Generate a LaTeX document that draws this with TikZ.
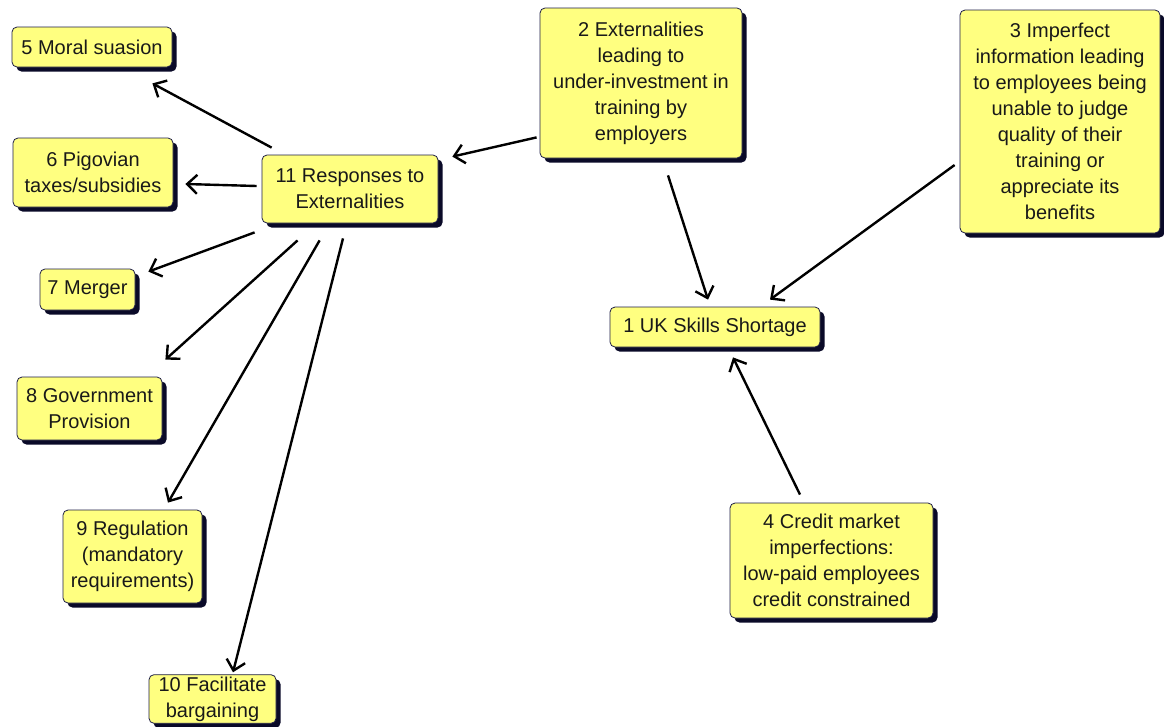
\documentclass[tikz,border=0pt]{standalone}
\usepackage{fontspec}
\setmainfont{Liberation Sans}
\usetikzlibrary{arrows.meta,shadows,calc}
\definecolor{boxfill}{RGB}{255,255,128}
\definecolor{boxline}{RGB}{30,30,70}
\definecolor{shadowc}{RGB}{10,10,40}
\definecolor{textc}{RGB}{25,25,25}
\begin{document}
\begin{tikzpicture}[x=1pt,y=-1pt,
  box/.style={draw=boxline,line width=0.8pt,fill=boxfill,rounded corners=5pt,
    align=center,inner sep=2pt,text=textc,font=\fontsize{20}{26}\selectfont,
    drop shadow={shadow xshift=4.5pt,shadow yshift=-4.5pt,fill=shadowc,opacity=1}},
  conn/.style={line width=2.4pt,-{Straight Barb[length=10pt,width=19pt,line width=2.4pt]}}]
\useasboundingbox (0,0) rectangle (1164,726);
\fill[white] (0,0) rectangle (1164,726);
% nodes
\node[box,minimum width=160pt,minimum height=40pt] (n5) at (92,47) {5 Moral suasion};
\node[box,minimum width=160pt,minimum height=69pt] (n6) at (93,172.5) {6 Pigovian\\taxes/subsidies};
\node[box,minimum width=176pt,minimum height=68pt] (n11) at (350,189) {11 Responses to\\Externalities};
\node[box,minimum width=95pt,minimum height=41pt] (n7) at (87.5,289.5) {7 Merger};
\node[box,minimum width=145pt,minimum height=63pt] (n8) at (89.5,408.5) {8 Government\\Provision};
\node[box,minimum width=139pt,minimum height=93pt] (n9) at (132.5,556.5) {9 Regulation\\(mandatory\\requirements)};
\node[box,minimum width=127pt,minimum height=46pt] (n10) at (212.5,699) {10 Facilitate\\bargaining};
\node[box,minimum width=202pt,minimum height=150pt] (n2) at (641,83) {2 Externalities\\leading to\\under-investment in\\training by\\employers};
\node[box,minimum width=200pt,minimum height=223pt] (n3) at (1060,121.5) {3 Imperfect\\information leading\\to employees being\\unable to judge\\quality of their\\training or\\appreciate its\\benefits};
\node[box,minimum width=210pt,minimum height=40pt] (n1) at (715,327) {1 UK Skills Shortage};
\node[box,minimum width=203pt,minimum height=115pt] (n4) at (831.5,560.5) {4 Credit market\\imperfections:\\low-paid employees\\credit constrained};
% connectors
\draw[conn] ($(n11.north west)+(10,-7)$) -- ($(n5.south east)+(-20,16)$);
\draw[conn] ($(n11.west)+(-5,-3)$) -- ($(n6.east)+(12,11.5)$);
\draw[conn] ($(n2.south west)+(-3,-21)$) -- ($(n11.north east)+(14,2)$);
\draw[conn] ($(n11.south west)+(-7,9)$) -- ($(n7.north east)+(13,3)$);
\draw[conn] ($(n11.south west)+(36,17)$) -- ($(n8.north east)+(3,-17)$);
\draw[conn] ($(n11.south west)+(58,17)$) -- ($(n9.north)+(35.5,-7)$);
\draw[conn] ($(n11.south)+(-7,15)$) -- ($(n10.north)+(20.5,-2)$);
\draw[conn] ($(n2.south)+(27,17)$) -- ($(n1.north)+(-7,-7)$);
\draw[conn] ($(n3.west)+(-5,43.5)$) -- ($(n1.north)+(55,-7)$);
\draw[conn] ($(n4.north)+(-31.5,-8)$) -- ($(n1.south)+(18,10)$);
\end{tikzpicture}
\end{document}
